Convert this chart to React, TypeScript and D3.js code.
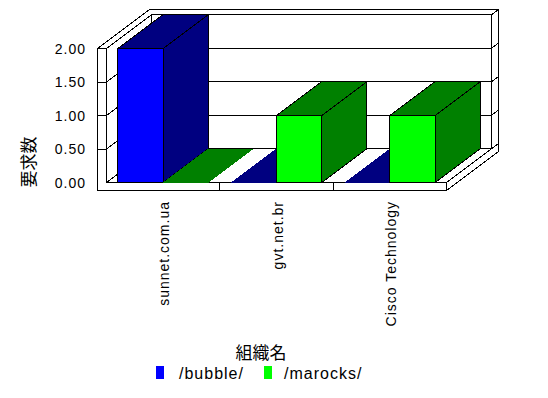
import React from "react";
import * as d3 from "d3";

const categories = ["sunnet.com.ua", "gvt.net.br", "Cisco Technology"];
const seriesNames = ["/bubble/", "/marocks/"];
const bubbleValues = [2, 0, 0];
const marocksValues = [0, 1, 1];
const seriesValues = [bubbleValues, marocksValues];
const frontColors = ["#0000ff", "#00ff00"];
const shadeColors = ["#000080", "#008000"];
const yTicks = [0, 0.5, 1, 1.5, 2];
const yTickLabels = ["0.00", "0.50", "1.00", "1.50", "2.00"];
const yTitle = "要求数";
const xTitle = "組織名";

const W = 548;
const H = 398;
const plotLeft = 106.5;
const plotRight = 446.5;
const floorY = 182.5;
const topY = 48.5;
const D = 45; // bar depth in x
const K = 0.75; // depth slope
const wallW = 9;
const floorH = 8;
const backT = 7;

const latin = "'Liberation Sans', Arial, sans-serif";
const cjk = "'Noto Sans CJK JP', sans-serif";

const pts = (p: [number, number][]) => p.map((q) => q.join(",")).join(" ");

export default function App() {
  const y = d3.scaleLinear().domain([0, 2]).range([floorY, topY]);
  const x = d3.scaleBand<string>().domain(categories).range([plotLeft, plotRight]).paddingInner(0).paddingOuter(0);
  const xs = d3.scaleBand<string>().domain(seriesNames).range([0, x.bandwidth()]).paddingInner(0).paddingOuter(0.25);
  const ddx = D;
  const ddy = -D * K;
  const tdx = D + backT;
  const tdy = -(D + backT) * K;
  const outerLeft = plotLeft - wallW;
  const floorBottom = floorY + floorH;

  const bars: React.ReactNode[] = [];
  categories.forEach((c, ci) => {
    seriesNames.forEach((s, si) => {
      const v = seriesValues[si][ci];
      const x0 = (x(c) as number) + (xs(s) as number);
      const x1 = x0 + xs.bandwidth();
      const yt = y(v);
      const y0 = y(0);
      const top: [number, number][] = [[x0, yt], [x1, yt], [x1 + ddx, yt + ddy], [x0 + ddx, yt + ddy]];
      if (v === 0) {
        bars.push(<polygon key={`z${ci}${si}`} points={pts(top)} fill={shadeColors[si]} stroke="none" />);
      } else {
        bars.push(
          <g key={`b${ci}${si}`} stroke="#000" strokeWidth={1}>
            <polygon points={pts([[x1, yt], [x1, y0], [x1 + ddx, y0 + ddy], [x1 + ddx, yt + ddy]])} fill={shadeColors[si]} />
            <polygon points={pts(top)} fill={shadeColors[si]} />
            <rect x={x0} y={yt} width={x1 - x0} height={y0 - yt} fill={frontColors[si]} />
          </g>
        );
      }
    });
  });

  const silhouette: [number, number][] = [
    [outerLeft, floorBottom],
    [outerLeft, topY],
    [outerLeft + tdx, topY + tdy],
    [plotRight + tdx, topY + tdy],
    [plotRight + tdx, floorBottom + tdy],
    [plotRight, floorBottom],
  ];

  return (
    <svg width={W} height={H} style={{ position: "absolute", left: 0, top: 0, background: "#fff" }} shapeRendering="crispEdges">
      <rect x={0} y={0} width={W} height={H} fill="#fff" />
      <g stroke="#000" strokeWidth={1} fill="none">
        <polygon points={pts(silhouette)} fill="#fff" />
        {/* back wall face */}
        <rect x={plotLeft + ddx} y={topY + ddy} width={plotRight - plotLeft} height={floorY - topY} fill="#fff" />
        {/* back wall grid lines and right side diagonals */}
        {yTicks.map((t) => (
          <g key={`g${t}`}>
            <line x1={plotLeft + ddx} x2={plotRight + ddx} y1={y(t) + ddy} y2={y(t) + ddy} />
            <line x1={plotRight + ddx} x2={plotRight + tdx} y1={y(t) + ddy} y2={y(t) + tdy} />
            <line x1={plotLeft} x2={plotLeft + ddx} y1={y(t)} y2={y(t) + ddy} />
            {t > 0 ? <line x1={outerLeft} x2={plotLeft} y1={y(t)} y2={y(t)} /> : null}
          </g>
        ))}
        {/* left wall inner edge and floor front top edge */}
        <polyline points={pts([[plotLeft, topY], [plotLeft, floorY], [plotRight, floorY], [plotRight, floorBottom]])} />
        <line x1={plotRight} y1={floorY} x2={plotRight + tdx} y2={floorY + tdy} />
        {/* category separators on floor front */}
        {categories.slice(1).map((c) => (
          <line key={`s${c}`} x1={x(c) as number} x2={x(c) as number} y1={floorY} y2={floorBottom} />
        ))}
      </g>
      {bars}
      {/* y tick labels */}
      <g fontFamily={latin} fontSize={14} letterSpacing={1} fill="#000" shapeRendering="auto">
        {yTicks.map((t, i) => (
          <text key={`yl${t}`} x={86} y={y(t)} textAnchor="end" dominantBaseline="central">
            {yTickLabels[i]}
          </text>
        ))}
        {categories.map((c) => (
          <text
            key={`xl${c}`}
            transform={`translate(${(x(c) as number) + x.bandwidth() / 2 + 6},201) rotate(-90)`}
            textAnchor="end"
          >
            {c}
          </text>
        ))}
      </g>
      <text transform="translate(27,162) rotate(-90)" textAnchor="middle" dominantBaseline="central" fontFamily={cjk} fontSize={17}>
        {yTitle}
      </text>
      <text x={261} y={359} textAnchor="middle" fontFamily={cjk} fontSize={17}>
        {xTitle}
      </text>
      <g fontFamily={latin} fontSize={16} letterSpacing={1}>
        {seriesNames.map((s, i) => (
          <g key={`lg${s}`}>
            <rect x={[156, 264][i]} y={366} width={8} height={13} fill={frontColors[i]} />
            <text x={[179, 284][i]} y={379}>
              {s}
            </text>
          </g>
        ))}
      </g>
    </svg>
  );
}
